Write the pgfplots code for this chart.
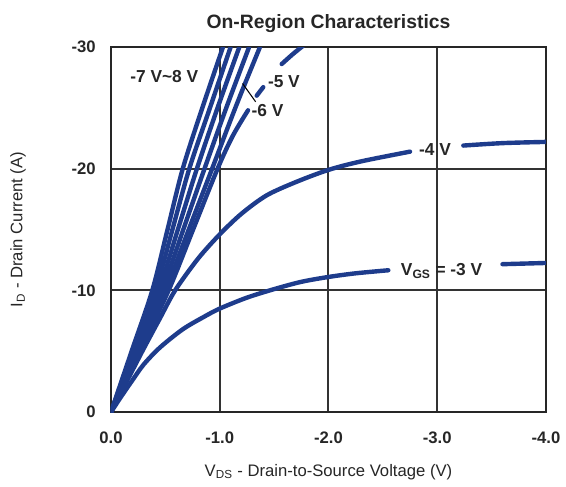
\documentclass[border=0pt]{standalone}
\usepackage{fontspec}
\setmainfont{Liberation Sans}
\usepackage{pgfplots}
\pgfplotsset{compat=1.18}
\definecolor{curveblue}{RGB}{30,60,140}
\pgfplotsset{vcurve/.style={curveblue, line width=3.3pt, line cap=round, smooth, no markers}}
\begin{document}
\begin{tikzpicture}
\useasboundingbox (-83.25pt,-55.5pt) rectangle (341.25pt,309pt);
\begin{axis}[
  scale only axis, width=326.25pt, height=273.75pt,
  at={(0,0)}, anchor=south west,
  xmin=-4, xmax=0, ymin=-30, ymax=0,
  x dir=reverse, y dir=reverse,
  xtick={0,-1,-2,-3,-4}, xticklabels={0.0,-1.0,-2.0,-3.0,-4.0},
  ytick={0,-10,-20,-30}, yticklabels={0,-10,-20,-30},
  major tick length=0pt,
  grid=major, grid style={black!80, line width=1.5pt},
  axis line style={black!85, line width=1.5pt},
  tick label style={font=\bfseries\fontsize{12.5}{14}\selectfont, text=black!85},
  xticklabel style={yshift=-11pt},
  yticklabel style={xshift=-8pt},
  title={On-Region Characteristics},
  title style={font=\bfseries\fontsize{14.5}{16}\selectfont, text=black!85, at={(axis description cs:0.5,1.041)}, anchor=center, yshift=0pt},
  xlabel={V\textsubscript{DS} - Drain-to-Source Voltage (V)},
  xlabel style={font=\fontsize{12.5}{14}\selectfont, text=black!85, at={(axis description cs:0.5,-0.164)}, anchor=center, yshift=0pt},
  ylabel={I\textsubscript{D} - Drain Current (A)},
  ylabel style={font=\fontsize{12.5}{14}\selectfont, text=black!85, at={(axis description cs:-0.2138,0.5)}, anchor=center, xshift=0pt},
]
% VGS = -3 V
\addplot[vcurve] coordinates {(0,0) (-0.1,-1.35) (-0.2,-2.65) (-0.3,-3.9) (-0.45,-5.3) (-0.66,-6.8) (-0.85,-7.8) (-1.0,-8.5) (-1.25,-9.4) (-1.5,-10.1) (-1.75,-10.7) (-2.0,-11.1) (-2.25,-11.4) (-2.55,-11.65)};
\addplot[vcurve] coordinates {(-3.6,-12.15) (-3.8,-12.2) (-4.0,-12.25)};
% VGS = -4 V
\addplot[vcurve] coordinates {(0,0) (-0.15,-2.6) (-0.3,-5.2) (-0.45,-7.7) (-0.59,-10) (-0.8,-12.6) (-1.0,-14.6) (-1.2,-16.3) (-1.43,-17.8) (-1.7,-18.9) (-2.0,-19.9) (-2.3,-20.6) (-2.75,-21.4)};
\addplot[vcurve] coordinates {(-3.24,-21.9) (-3.6,-22.1) (-4.0,-22.2)};
% VGS = -5 V
\addplot[vcurve] coordinates {(0,0) (-0.265,-5) (-0.53,-10) (-0.755,-15) (-0.98,-20) (-1.12,-22.7) (-1.26,-24.8)};
\addplot[vcurve] coordinates {(-1.34,-26.0) (-1.40,-26.7)};
\addplot[vcurve] coordinates {(-1.57,-28.6) (-1.67,-29.4) (-1.78,-30.2)};
% VGS = -6 V
\addplot[vcurve] coordinates {(0,0) (-0.25,-5) (-0.50,-10) (-0.715,-15) (-0.93,-20) (-1.10,-24) (-1.21,-26.5) (-1.37,-30)};
% VGS = -7 V ... -8 V
\addplot[vcurve] coordinates {(0,0) (-0.235,-5) (-0.47,-10) (-0.665,-15) (-0.86,-20) (-1.06,-25) (-1.27,-30)};
\addplot[vcurve] coordinates {(0,0) (-0.22,-5) (-0.44,-10) (-0.615,-15) (-0.79,-20) (-0.98,-25) (-1.18,-30)};
\addplot[vcurve] coordinates {(0,0) (-0.205,-5) (-0.41,-10) (-0.565,-15) (-0.72,-20) (-0.91,-25) (-1.10,-30)};
\addplot[vcurve] coordinates {(0,0) (-0.19,-5) (-0.38,-10) (-0.52,-15) (-0.66,-20) (-0.84,-25) (-1.03,-30)};
% labels
\draw[black, line width=0.8pt] (axis cs:-1.21,-27.0) -- (axis cs:-1.33,-25.5);
\begin{scope}[every node/.style={font=\bfseries\fontsize{13}{15}\selectfont, text=black!85}]
\node at (axis cs:-0.49,-27.55) {-7 V\textasciitilde8 V};
\node at (axis cs:-1.59,-27.15) {-5 V};
\node at (axis cs:-1.44,-24.75) {-6 V};
\node at (axis cs:-2.98,-21.55) {-4 V};
\node at (axis cs:-3.04,-11.55) {V\textsubscript{GS} = -3 V};
\end{scope}
\end{axis}
\end{tikzpicture}
\end{document}
